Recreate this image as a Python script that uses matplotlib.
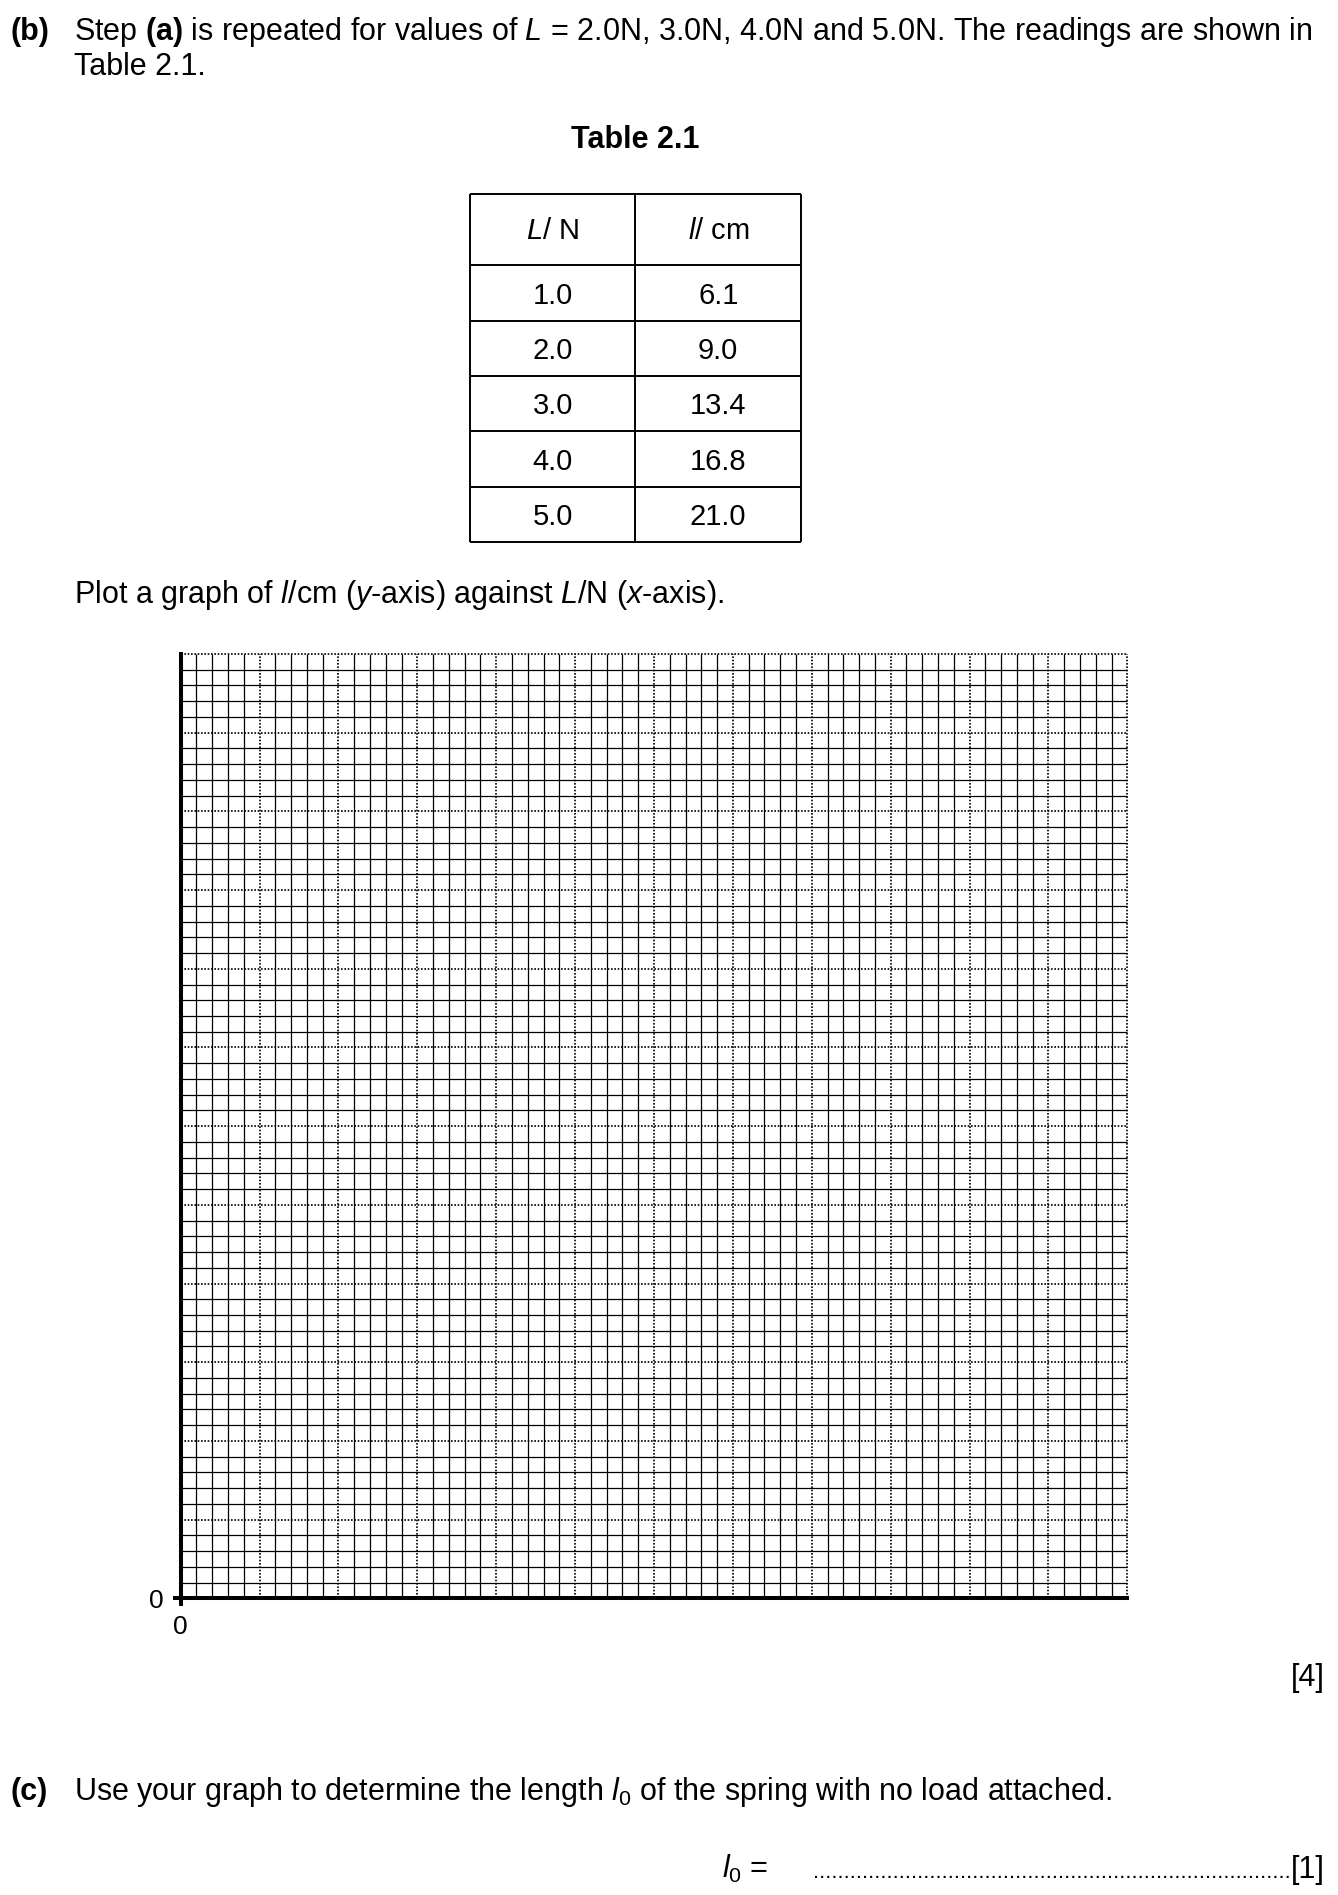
import matplotlib
matplotlib.use("Agg")
import matplotlib.pyplot as plt
import numpy as np

plt.rcParams['font.family'] = ['Liberation Sans', 'DejaVu Sans']
plt.rcParams['mathtext.fontset'] = 'custom'
plt.rcParams['mathtext.rm'] = 'Liberation Sans'
plt.rcParams['mathtext.it'] = 'Liberation Sans:italic'
plt.rcParams['mathtext.bf'] = 'Liberation Sans:bold'

# Table 2.1 readings
load_N = [1.0, 2.0, 3.0, 4.0, 5.0]
length_cm = [6.1, 9.0, 13.4, 16.8, 21.0]
headers = ['$L$/ N', '$l$/ cm']

# graph paper: 60 x 60 small squares, dotted line every 5
n_squares = 60
big_every = 5

W, H = 1338, 1895
fig = plt.figure(figsize=(W / 100, H / 100), dpi=100)

def fx(px):
    return px / W

def fy(py):
    return 1 - py / H

body = 22
tab_fs = 21

# ---- question text ----
fig.text(fx(10), fy(40), '(b)', fontsize=body, fontweight='bold', va='baseline')
fig.text(fx(74), fy(40), r'Step $\mathbf{(a)}$ is repeated for values of $L$ = 2.0N, 3.0N, 4.0N and 5.0N. The readings are shown in',
         fontsize=body, va='baseline')
fig.text(fx(74), fy(75), 'Table 2.1.', fontsize=body, va='baseline')
fig.text(fx(635), fy(148), 'Table 2.1', fontsize=body, fontweight='bold', ha='center', va='baseline')

# ---- table ----
tl, tr, tt, tb = 470, 801, 194, 542
tax = fig.add_axes([fx(tl), fy(tb), fx(tr - tl), (tb - tt) / H])
tax.set_axis_off()
nrows = len(load_N)
head_h = 1.29
tax.set_xlim(0, 2)
tax.set_ylim(nrows + head_h, 0)
row_lines = [0, head_h] + [head_h + i + 1 for i in range(nrows)]
tax.hlines(row_lines, 0, 2, color='black', lw=1.4, clip_on=False)
tax.vlines([0, 1, 2], 0, nrows + head_h, color='black', lw=1.4, clip_on=False)
for j, h in enumerate(headers):
    tax.text(j + 0.5, head_h / 2 + 0.03, h, fontsize=tab_fs, ha='center', va='center')
for i, (a, b) in enumerate(zip(load_N, length_cm)):
    yc = head_h + i + 0.55
    tax.text(0.5, yc, f'{a:.1f}', fontsize=tab_fs, ha='center', va='center')
    tax.text(1.5, yc, f'{b:.1f}', fontsize=tab_fs, ha='center', va='center')

fig.text(fx(74), fy(603), r'Plot a graph of $l$/cm ($y$-axis) against $L$/N ($x$-axis).',
         fontsize=body, va='baseline')

# ---- graph paper ----
gl, gr, gt, gb = 180.7, 1127.3, 654, 1598.3
ax = fig.add_axes([fx(gl), fy(gb), fx(gr - gl), (gb - gt) / H])
ax.set_xlim(0, n_squares)
ax.set_ylim(0, n_squares)
minor = [i for i in range(1, n_squares) if i % big_every]
major = list(range(big_every, n_squares + 1, big_every))
ax.vlines(minor, 0, n_squares, color='black', lw=0.9, clip_on=False)
ax.hlines(minor, 0, n_squares, color='black', lw=0.9, clip_on=False)
ax.vlines(major, 0, n_squares, color='black', lw=1.2, linestyles=(0, (1, 1)), clip_on=False)
ax.hlines(major, 0, n_squares, color='black', lw=1.2, linestyles=(0, (1, 1)), clip_on=False)
for s in ['top', 'right']:
    ax.spines[s].set_visible(False)
for s in ['left', 'bottom']:
    ax.spines[s].set_linewidth(2.9)
    ax.spines[s].set_zorder(3)
ax.set_xticks([0])
ax.set_xticklabels(['0'])
ax.set_yticks([0])
ax.set_yticklabels(['0'])
ax.tick_params(length=6, width=2.9, pad=6, labelsize=19)

fig.text(fx(1325), fy(1686), '[4]', fontsize=body, ha='right', va='baseline')

# ---- part (c) ----
fig.text(fx(10), fy(1800), '(c)', fontsize=body, fontweight='bold', va='baseline')
fig.text(fx(74), fy(1800), r'Use your graph to determine the length $l_\mathrm{0}$ of the spring with no load attached.',
         fontsize=body, va='baseline')
fig.text(fx(722), fy(1878), r'$l_\mathrm{0}$ =', fontsize=body, va='baseline')
fig.text(fx(1325), fy(1878), '[1]', fontsize=body, ha='right', va='baseline')
fig.text(fx(1291), fy(1878), '.' * 78, fontsize=16, ha='right', va='baseline')

fig.savefig('out.png', dpi=100, facecolor='white')
